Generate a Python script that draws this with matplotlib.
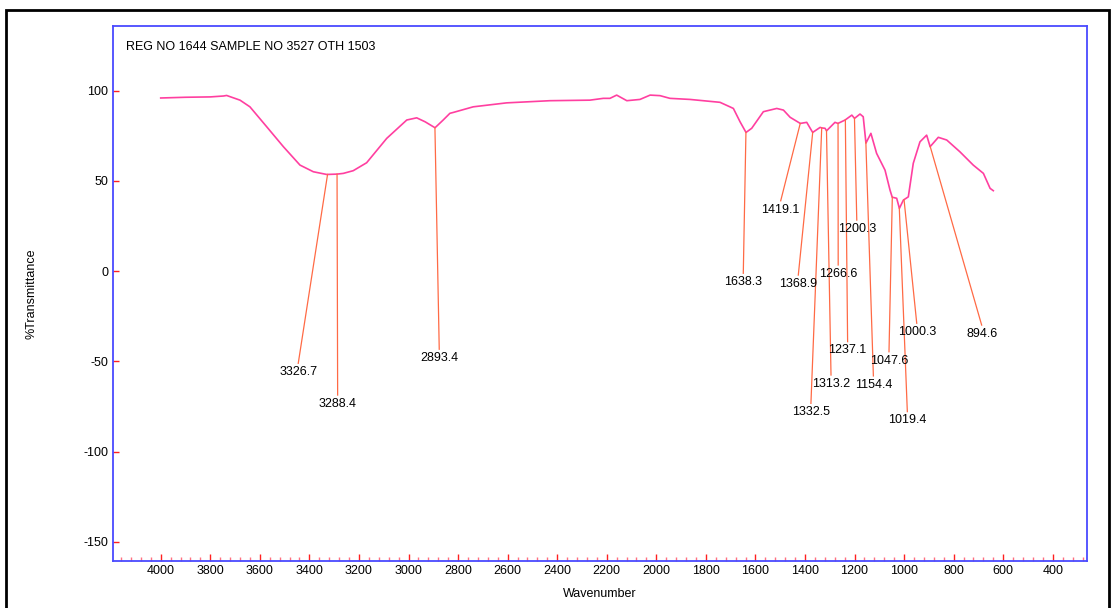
import numpy as np
import matplotlib.pyplot as plt
from matplotlib.patches import Rectangle
from matplotlib.ticker import MultipleLocator

plt.rcParams['font.family'] = ['Liberation Sans', 'DejaVu Sans']
plt.rcParams['axes.unicode_minus'] = False

# IR spectrum (wavenumber, %T)
wavenumber = [4000, 3900, 3800, 3747, 3734, 3680, 3640, 3572, 3505, 3438, 3384, 3330,
              3288, 3263, 3223, 3169, 3088, 3007, 2967, 2933, 2893, 2860, 2833, 2819,
              2739, 2604, 2429, 2268, 2214, 2187, 2160, 2119, 2066, 2025, 1985, 1945,
              1864, 1743, 1703, 1689, 1662, 1638, 1615, 1568, 1514, 1487, 1460, 1419,
              1393, 1369, 1339, 1332, 1319, 1313, 1279, 1267, 1238, 1211, 1200, 1178,
              1165, 1154, 1134, 1111, 1077, 1057, 1048, 1030, 1019, 1003, 983, 963,
              936, 909, 895, 862, 828, 775, 721, 680, 653, 640]
transmittance = [96.0, 96.4, 96.6, 97.1, 97.4, 94.8, 91.1, 80.0, 69.0, 58.8, 55.1, 53.6,
                 53.8, 54.2, 55.7, 60.1, 73.6, 83.8, 85.0, 82.8, 79.5, 83.8, 87.5, 88.0,
                 91.1, 93.3, 94.5, 94.8, 95.8, 95.8, 97.6, 94.5, 95.2, 97.6, 97.3, 95.8,
                 95.2, 93.6, 91.1, 90.2, 82.8, 76.9, 79.2, 88.4, 90.2, 89.3, 85.3, 81.9,
                 82.5, 76.9, 79.7, 79.4, 79.2, 77.8, 82.5, 81.9, 83.8, 86.5, 84.7, 87.1,
                 85.6, 71.0, 76.4, 65.3, 56.0, 45.0, 41.0, 40.4, 34.8, 39.4, 41.2, 59.8,
                 71.7, 75.4, 69.0, 74.2, 72.7, 66.2, 58.8, 54.2, 45.9, 44.6]

# peak labels and where their leader lines end
peaks = [3326.7, 3288.4, 2893.4, 1638.3, 1419.1, 1368.9, 1332.5, 1313.2,
         1266.6, 1237.1, 1200.3, 1154.4, 1047.6, 1019.4, 1000.3, 894.6]
label_x = [3445, 3286, 2876, 1649, 1498, 1427, 1376, 1295,
           1266, 1228, 1191, 1124, 1061, 987, 949, 687]
label_y = [-51.1, -68.7, -43.3, -1.2, 39.0, -2.2, -73.3, -57.6,
           3.4, -39.1, 28.3, -58.1, -44.7, -77.9, -28.9, -29.9]

title = 'REG NO 1644 SAMPLE NO 3527 OTH 1503'

fig = plt.figure(figsize=(11.12, 6.08), dpi=100)
ax = fig.add_axes([0.1013, 0.0773, 0.8762, 0.8799])

wn = np.array(wavenumber)
tr = np.array(transmittance)
ax.plot(wn, tr, color='#ff3fa0', lw=1.2)

for p, lx, ly in zip(peaks, label_x, label_y):
    py = np.interp(p, wn[::-1], tr[::-1])
    ax.plot([p, lx], [py, ly], color='#ff6a45', lw=0.9)
    ax.annotate(f'{p:.1f}', (lx, ly), xytext=(0, -2), textcoords='offset points',
                ha='center', va='top', fontsize=9)

ax.text(0.014, 0.96, title, transform=ax.transAxes, fontsize=9, va='center')

ax.set_xlim(4194, 262)
ax.set_ylim(-160.7, 135.9)
ax.xaxis.set_major_locator(MultipleLocator(200))
ax.xaxis.set_minor_locator(MultipleLocator(40))
ax.set_yticks([-150, -100, -50, 0, 50, 100])
ax.tick_params(axis='x', which='major', direction='in', length=5, width=1,
               color='#ff2020', labelsize=9, pad=3)
ax.tick_params(axis='x', which='minor', direction='in', length=3, width=1,
               color='#ff7080')
ax.tick_params(axis='y', direction='in', length=4.5, width=1, color='#ff2020',
               labelsize=9, pad=3)
for s in ax.spines.values():
    s.set_color('#4a4aff')
    s.set_linewidth(1.3)

ax.set_xlabel('Wavenumber', fontsize=9, labelpad=8)
ax.set_ylabel('%Transmittance', fontsize=9)
ax.yaxis.set_label_coords(-0.077, 0.5)

fig.patches.append(Rectangle((6 / 1112, -0.05), 1103 / 1112, 1.05 - 9.5 / 608,
                             transform=fig.transFigure, fill=False,
                             edgecolor='black', lw=2, clip_on=False))

fig.savefig('out.png', dpi=100)
